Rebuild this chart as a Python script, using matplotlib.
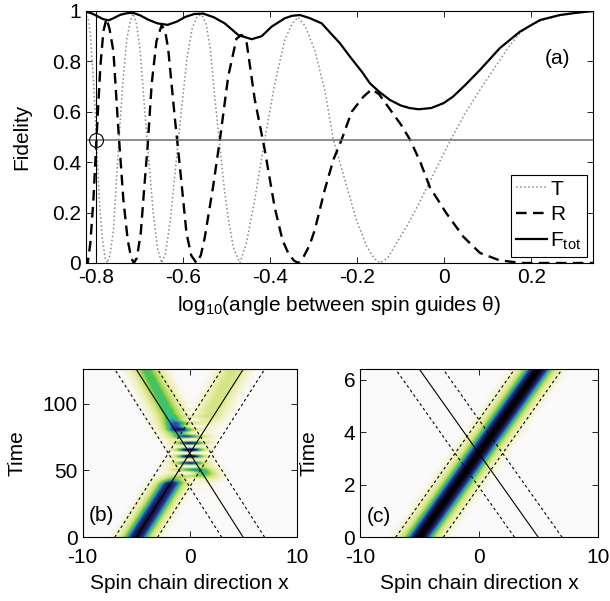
import numpy as np
import matplotlib
matplotlib.use("Agg")
import matplotlib.pyplot as plt
from matplotlib.colors import LinearSegmentedColormap

plt.rcParams["font.family"] = ["Liberation Sans", "DejaVu Sans"]
plt.rcParams["mathtext.fontset"] = "custom"
plt.rcParams["mathtext.rm"] = "Liberation Sans"
plt.rcParams["mathtext.it"] = "Liberation Sans:italic"
plt.rcParams["axes.unicode_minus"] = False
plt.rcParams["xtick.direction"] = "in"
plt.rcParams["ytick.direction"] = "in"
plt.rcParams["xtick.top"] = True
plt.rcParams["ytick.right"] = True

# ---- panel (a): fidelity vs log10(angle) ----
T_X = [-0.824, -0.819, -0.814, -0.807, -0.800, -0.793, -0.786, -0.780, -0.775,
       -0.769, -0.761, -0.750, -0.740, -0.730, -0.722, -0.716, -0.708, -0.700,
       -0.690, -0.680, -0.670, -0.660, -0.650, -0.641, -0.630, -0.618, -0.605,
       -0.592, -0.580, -0.568, -0.558, -0.548, -0.538, -0.528, -0.516, -0.505,
       -0.497, -0.485, -0.470, -0.455, -0.436, -0.413, -0.390, -0.367, -0.350,
       -0.336, -0.320, -0.298, -0.275, -0.255, -0.232, -0.202, -0.178, -0.162,
       -0.148, -0.130, -0.110, -0.085, -0.063, -0.040, -0.017, 0.015, 0.048,
       0.082, 0.110, 0.128, 0.150, 0.174, 0.200, 0.230, 0.266, 0.300, 0.342]
T_Y = [0.98, 0.97, 0.91, 0.73, 0.49, 0.24, 0.09, 0.02, 0.00,
       0.03, 0.13, 0.44, 0.70, 0.89, 0.96, 0.99, 0.95, 0.85,
       0.63, 0.42, 0.21, 0.06, 0.00, 0.04, 0.17, 0.38, 0.60,
       0.81, 0.93, 0.98, 0.985, 0.95, 0.85, 0.66, 0.46, 0.28,
       0.18, 0.06, 0.00, 0.08, 0.25, 0.49, 0.71, 0.885, 0.95,
       0.975, 0.94, 0.845, 0.687, 0.49, 0.35, 0.17, 0.065, 0.02,
       0.00, 0.02, 0.078, 0.15, 0.22, 0.30, 0.38, 0.49, 0.594,
       0.687, 0.76, 0.806, 0.862, 0.912, 0.945, 0.966, 0.982, 0.991, 0.998]

R_X = [-0.824, -0.820, -0.814, -0.807, -0.800, -0.791, -0.784, -0.777, -0.770,
       -0.761, -0.750, -0.738, -0.728, -0.720, -0.714, -0.707, -0.698, -0.690,
       -0.682, -0.673, -0.662, -0.650, -0.642, -0.635, -0.620, -0.608, -0.593,
       -0.582, -0.570, -0.560, -0.551, -0.532, -0.516, -0.497, -0.478, -0.466,
       -0.455, -0.436, -0.413, -0.390, -0.372, -0.359, -0.346, -0.336, -0.325,
       -0.310, -0.298, -0.275, -0.255, -0.236, -0.213, -0.186, -0.167, -0.150,
       -0.125, -0.100, -0.079, -0.055, -0.033, 0.005, 0.044, 0.082, 0.128,
       0.180, 0.250, 0.342]
R_Y = [0.02, 0.00, 0.08, 0.25, 0.49, 0.78, 0.92, 0.97, 0.93,
       0.84, 0.54, 0.25, 0.09, 0.02, 0.00, 0.02, 0.12, 0.30,
       0.47, 0.71, 0.88, 0.944, 0.92, 0.85, 0.58, 0.38, 0.12,
       0.03, 0.00, 0.03, 0.10, 0.30, 0.49, 0.74, 0.89, 0.905,
       0.88, 0.65, 0.45, 0.22, 0.09, 0.04, 0.01, 0.00, 0.02,
       0.07, 0.13, 0.29, 0.41, 0.49, 0.60, 0.66, 0.689, 0.67,
       0.61, 0.55, 0.49, 0.40, 0.30, 0.197, 0.104, 0.04, 0.01,
       0.0, 0.0, 0.0]

F_X = [-0.824, -0.810, -0.795, -0.785, -0.772, -0.760, -0.745, -0.730, -0.716,
       -0.700, -0.680, -0.660, -0.636, -0.615, -0.595, -0.575, -0.555, -0.530,
       -0.505, -0.474, -0.443, -0.420, -0.397, -0.367, -0.350, -0.332, -0.310,
       -0.282, -0.263, -0.240, -0.217, -0.190, -0.171, -0.150, -0.125, -0.100,
       -0.080, -0.059, -0.030, -0.002, 0.020, 0.048, 0.082, 0.128, 0.174,
       0.220, 0.266, 0.300, 0.342]
F_Y = [0.997, 0.99, 0.977, 0.968, 0.963, 0.972, 0.985, 0.991, 0.993,
       0.983, 0.965, 0.951, 0.945, 0.958, 0.977, 0.988, 0.99, 0.975,
       0.951, 0.905, 0.888, 0.90, 0.938, 0.971, 0.981, 0.984, 0.972,
       0.951, 0.915, 0.872, 0.819, 0.76, 0.713, 0.68, 0.647, 0.625,
       0.615, 0.610, 0.615, 0.634, 0.66, 0.706, 0.766, 0.853, 0.918,
       0.964, 0.984, 0.992, 1.0]

MARK_X = -0.8       # angle used in panel (b)
MARK_Y = 0.49       # fidelity level line
XLIM_A = (-0.824, 0.342)
XTICKS_A = [-0.8, -0.6, -0.4, -0.2, 0, 0.2]
XTICKLABELS_A = ["-0.8", "-0.6", "-0.4", "-0.2", "0", "0.2"]
YTICKS_A = [0, 0.2, 0.4, 0.6, 0.8, 1]
YTICKLABELS_A = ["0", "0.2", "0.4", "0.6", "0.8", "1"]

# ---- panels (b), (c): packet density along two crossing guides ----
GUIDE_X = [-5, 5]          # guide position at t=0 and t=tmax
DASH_OFFSETS = [-2, 2]     # guide edges
TMAX_B = 125.6
TMAX_C = 6.4
PACKET_SIGMA = 0.85
# guide amplitudes vs fraction of time window, panel (b)
S_KNOTS = [0.0, 0.32, 0.38, 0.44, 0.50, 0.57, 0.64, 0.72, 1.0]
AMP_UP_B = [1.0, 0.97, 0.35, 0.52, 0.52, 0.52, 0.18, 0.50, 0.50]
AMP_DOWN_B = [0.0, 0.12, 0.80, 0.52, 0.55, 0.52, 0.95, 0.74, 0.72]
FRINGE_S = 0.04            # fringe period as fraction of time window
LAG_END = 0.9
XTICKS_B = [-10, 0, 10]
YTICKS_B = [0, 50, 100]
YTICKS_C = [0, 2, 4, 6]

CMAP = LinearSegmentedColormap.from_list("packet", [
    (0.00, "#fafafa"), (0.03, "#f5f5d6"), (0.12, "#e8eea8"),
    (0.25, "#cfe27a"), (0.37, "#a2d24c"), (0.45, "#4fc24a"),
    (0.52, "#24c4a2"), (0.60, "#2f84c8"), (0.70, "#2b3f9e"),
    (0.83, "#1a1d58"), (1.00, "#000000")])


def density(amp_up, amp_down, lag_end, fringe):
    x = np.linspace(-10, 10, 401)
    s = np.linspace(0, 1, 321)
    xx, ss = np.meshgrid(x, s)
    a = np.interp(ss, S_KNOTS, amp_up) if amp_up is not None else np.ones_like(ss)
    b = np.interp(ss, S_KNOTS, amp_down) if amp_down is not None else np.zeros_like(ss)
    lag = lag_end * np.clip((ss - 0.5) / 0.5, 0, 1)
    span = GUIDE_X[1] - GUIDE_X[0]
    xa = GUIDE_X[0] + span * ss - lag
    xb = GUIDE_X[1] - span * ss + lag
    ga = np.exp(-(xx - xa) ** 2 / (4 * PACKET_SIGMA ** 2))
    gb = np.exp(-(xx - xb) ** 2 / (4 * PACKET_SIGMA ** 2))
    psi = a * ga + b * gb * np.exp(2j * np.pi * ss / fringe)
    return np.abs(psi) ** 2


def guide_lines(ax, tmax):
    t = [0, tmax]
    ax.plot(GUIDE_X, t, color="k", lw=0.8)
    ax.plot(GUIDE_X[::-1], t, color="k", lw=0.8)
    for off in DASH_OFFSETS:
        ax.plot([GUIDE_X[0] + off, GUIDE_X[1] + off], t, color="k", lw=0.8,
                ls=(0, (2.5, 2.5)))
        ax.plot([GUIDE_X[1] + off, GUIDE_X[0] + off], t, color="k", lw=0.8,
                ls=(0, (2.5, 2.5)))


fig = plt.figure(figsize=(6.1, 6.01), dpi=100)
FS = 15

ax = fig.add_axes([0.1410, 0.5624, 0.8311, 0.4193])
ax.plot(T_X, T_Y, color="#8a8a8a", lw=1.1, ls=":", label="T")
ax.plot(R_X, R_Y, color="k", lw=1.7, ls=(0, (4.5, 2.7)), label="R")
ax.plot(F_X, F_Y, color="k", lw=1.6, label=r"F$_{\rm tot}$")
ax.axhline(MARK_Y, color="#6e6e6e", lw=1.1)
ax.axvline(MARK_X, color="k", lw=0.8)
ax.plot([MARK_X], [MARK_Y], "o", mfc="none", mec="k", ms=10, mew=0.8)
ax.set_xlim(*XLIM_A)
ax.set_ylim(0, 1)
ax.set_xticks(XTICKS_A)
ax.set_xticklabels(XTICKLABELS_A)
ax.set_yticks(YTICKS_A)
ax.set_yticklabels(YTICKLABELS_A)
ax.tick_params(labelsize=FS, length=4, width=0.6)
ax.set_ylabel("Fidelity", fontsize=FS, labelpad=15)
ax.set_xlabel(r"log$_{\rm 10}$(angle between spin guides θ)", fontsize=FS,
              labelpad=5)
ax.text(0.23, 0.79, "(a)", fontsize=FS)
leg = ax.legend(loc="lower right", fontsize=FS, frameon=True, fancybox=False,
                edgecolor="k", framealpha=1, handlelength=1.5,
                handletextpad=0.15, labelspacing=0.3, borderpad=0.25,
                borderaxespad=0.3)
leg.get_frame().set_linewidth(0.8)

dens_b = density(AMP_UP_B, AMP_DOWN_B, LAG_END, FRINGE_S)
dens_c = density(None, None, 0.0, FRINGE_S)

for pos, dens, tmax, vmax, yticks, tag, tag_y, lpad in [
        ([0.1356, 0.1060, 0.3508, 0.2795], dens_b, TMAX_B, 1.1, YTICKS_B, "(b)", 12, 12),
        ([0.5902, 0.1060, 0.3897, 0.2795], dens_c, TMAX_C, 1.0, YTICKS_C, "(c)", 0.6, 18)]:
    axi = fig.add_axes(pos)
    axi.imshow(dens, origin="lower", extent=[-10, 10, 0, tmax], aspect="auto",
               cmap=CMAP, vmin=0, vmax=vmax, interpolation="bilinear")
    guide_lines(axi, tmax)
    axi.set_xlim(-10, 10)
    axi.set_ylim(0, tmax)
    axi.set_xticks(XTICKS_B)
    axi.set_xticklabels([str(v) for v in XTICKS_B])
    axi.set_yticks(yticks)
    axi.tick_params(labelsize=FS, length=4, width=0.6)
    axi.tick_params(axis="x", pad=8)
    axi.set_xlabel("Spin chain direction x", fontsize=FS, labelpad=5)
    axi.set_ylabel("Time", fontsize=FS, labelpad=lpad)
    axi.text(-9.4, tag_y, tag, fontsize=FS)

fig.savefig("out.png", dpi=100)
